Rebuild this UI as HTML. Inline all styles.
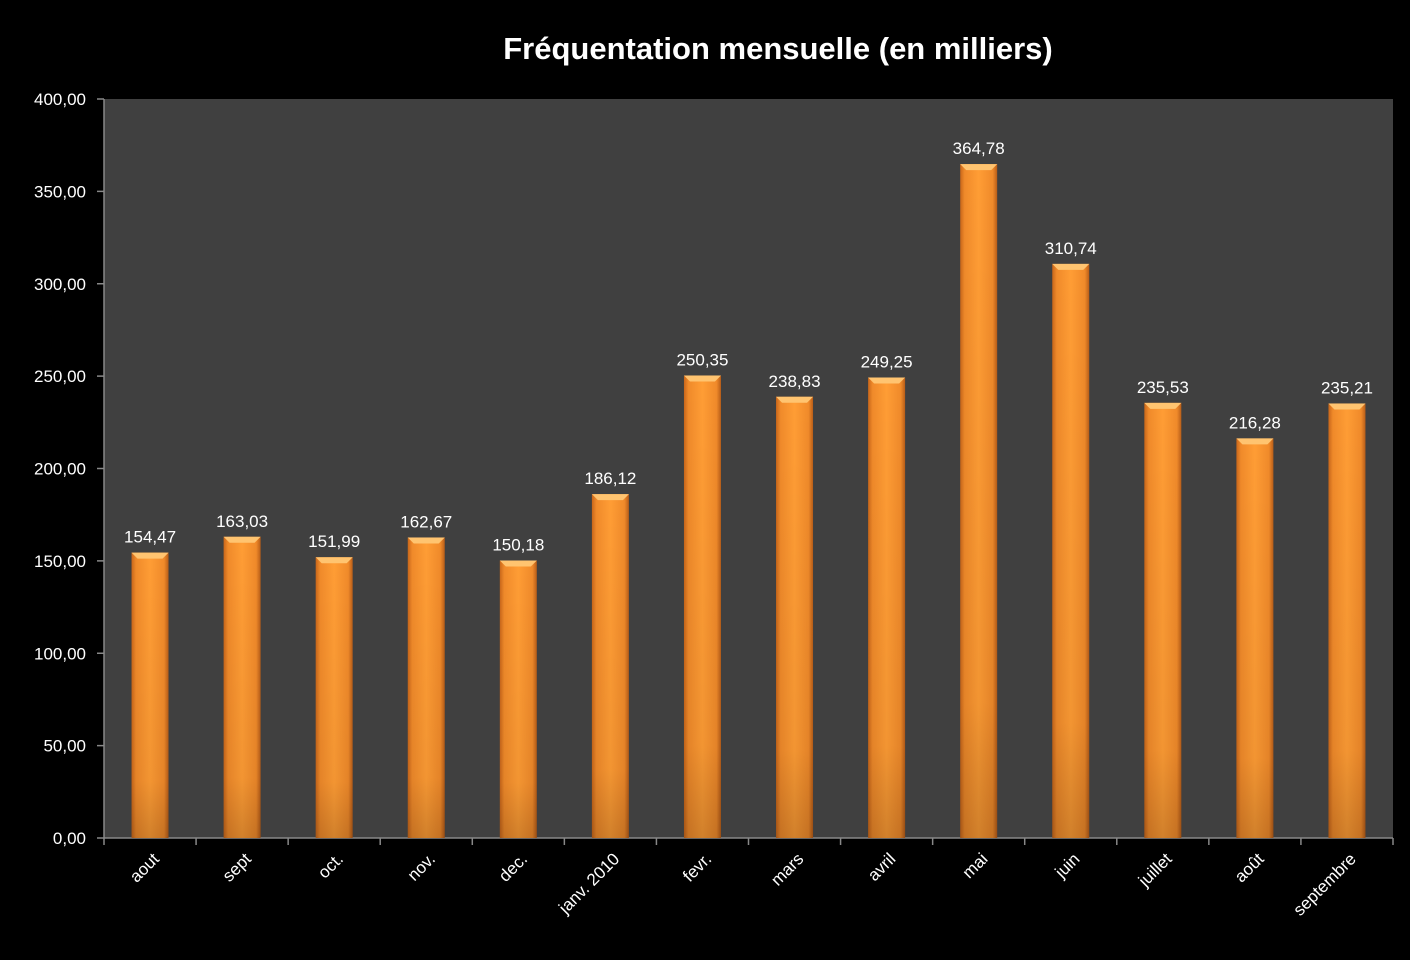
<!DOCTYPE html>
<html><head><meta charset="utf-8"><style>
body{margin:0;background:#000;}
svg{display:block;font-family:"Liberation Sans",sans-serif;}
</style></head><body>
<svg id="chart" width="1410" height="960">
<defs>
<linearGradient id="barG" x1="0" x2="1" y1="0" y2="0">
<stop offset="0" stop-color="#c8661a"/><stop offset="0.12" stop-color="#f08a2a"/><stop offset="0.5" stop-color="#ff9d35"/><stop offset="0.88" stop-color="#f08a2a"/><stop offset="1" stop-color="#b85d18"/>
</linearGradient>
<linearGradient id="barV" x1="0" x2="0" y1="0" y2="1">
<stop offset="0" stop-color="#000" stop-opacity="0"/><stop offset="0.8" stop-color="#000" stop-opacity="0.05"/><stop offset="1" stop-color="#000" stop-opacity="0.18"/>
</linearGradient>
</defs>
<rect x="0" y="0" width="1410" height="960" fill="#000"/>
<text x="778" y="59" fill="#fff" font-size="31" font-weight="bold" text-anchor="middle">Fréquentation mensuelle (en milliers)</text>
<rect x="104" y="99" width="1289" height="739" fill="#404040"/>
<g id="yaxis"></g>
<g id="xaxis"></g>
<g id="bars"></g>
</svg>
<script>
const categories=["aout","sept","oct.","nov.","dec.","janv. 2010","fevr.","mars","avril","mai","juin","juillet","août","septembre"];
const values=[154.47,163.03,151.99,162.67,150.18,186.12,250.35,238.83,249.25,364.78,310.74,235.53,216.28,235.21];
const yTicks=[0,50,100,150,200,250,300,350,400];
const X0=104,X1=1393,Y0=838,Y1=99,YMAX=400;
const NS="http://www.w3.org/2000/svg";
const bw=(X1-X0)/categories.length;
function y(v){return Y0-(v/YMAX)*(Y0-Y1);}
function x(i){return X0+bw*i;}
function mk(tag,attrs,parent){const e=document.createElementNS(NS,tag);for(const k in attrs)e.setAttribute(k,attrs[k]);parent.appendChild(e);return e;}
function fmt(v){return v.toFixed(2).replace('.',',');}
const ya=document.getElementById('yaxis'),xa=document.getElementById('xaxis'),bg=document.getElementById('bars');
mk('line',{x1:X0,x2:X0,y1:Y1,y2:Y0,stroke:'#888','stroke-width':1.5},ya);
yTicks.forEach(t=>{
  mk('line',{x1:X0-7,x2:X0,y1:y(t),y2:y(t),stroke:'#888','stroke-width':1.5},ya);
  const tx=mk('text',{x:X0-18,y:y(t)+6,fill:'#fff','font-size':17,'text-anchor':'end'},ya);
  tx.textContent=fmt(t);
  
  
});
mk('line',{x1:X0,x2:X1,y1:Y0,y2:Y0,stroke:'#888','stroke-width':1.5},xa);
for(let i=0;i<=categories.length;i++){mk('line',{x1:x(i),x2:x(i),y1:Y0,y2:Y0+7,stroke:'#888','stroke-width':1.5},xa);}
categories.forEach((c,i)=>{
  const cx=x(i)+bw/2;
  const t=mk('text',{x:0,y:0,fill:'#fff','font-size':17,'text-anchor':'end',transform:`translate(${cx+10},${Y0+22}) rotate(-45)`},xa);
  t.textContent=c;
  
  
});
values.forEach((v,i)=>{
  const cx=x(i)+bw/2,w=37,top=y(v),h=Y0-top;
  const g=mk('g',{},bg);
  
  
  mk('rect',{x:cx-w/2,y:top,width:w,height:h,fill:'url(#barG)'},g);
  mk('rect',{x:cx-w/2,y:top,width:w,height:h,fill:'url(#barV)'},g);
  mk('polygon',{points:`${cx-w/2},${top} ${cx+w/2},${top} ${cx+w/2-6},${top+6} ${cx-w/2+6},${top+6}`,fill:'#ffc470'},g);
  const lb=mk('text',{x:cx,y:top-10,fill:'#fff','font-size':17,'text-anchor':'middle'},bg);
  lb.textContent=fmt(v);
  
  
});
</script>
</body></html>
